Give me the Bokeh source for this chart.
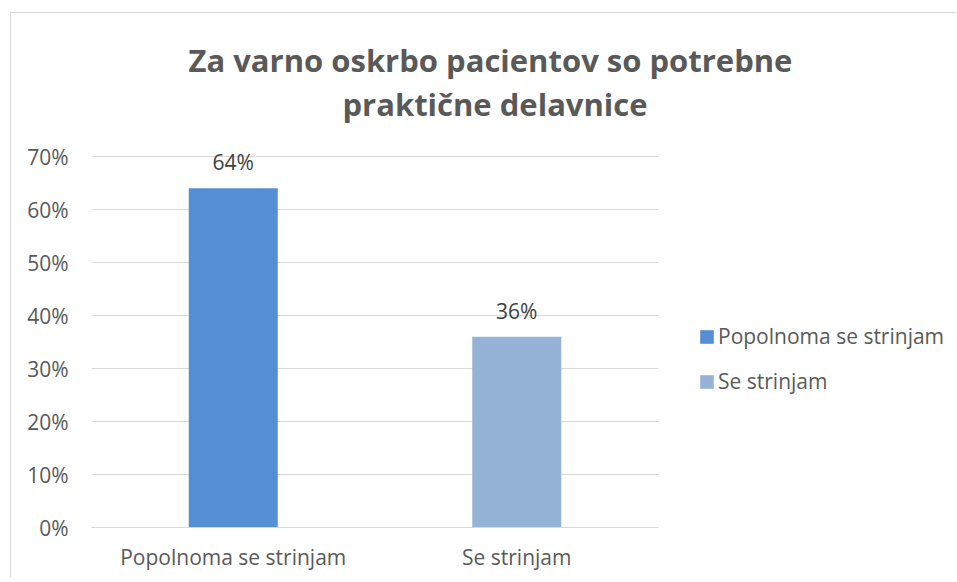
from bokeh.plotting import figure
from bokeh.models import (ColumnDataSource, Range1d, FixedTicker,
                          NumeralTickFormatter, Legend, LegendItem, LabelSet, Title)
from bokeh.core.properties import value
from bokeh.embed import file_html
from bokeh.resources import INLINE

# ---- data ----
title_lines = ["Za varno oskrbo pacientov so potrebne", "praktične delavnice"]
categories = ["Popolnoma se strinjam", "Se strinjam"]
values = [0.64, 0.36]
colors = ["#558ED5", "#95B3D7"]
y_ticks = [0.0, 0.1, 0.2, 0.3, 0.4, 0.5, 0.6, 0.7]
value_labels = [f"{round(v * 100)}%" for v in values]

FONT = "Open Sans"
TEXT = "#595959"
FS = "21px"
GRID = "#d9d9d9"

n = len(categories)
xpos = [i + 0.5 for i in range(n)]
source = ColumnDataSource(dict(x=xpos, cat=categories, val=values, color=colors, lbl=value_labels))

# plot area geometry (pixels): categories occupy 567 px; the frame continues
# to the right for the legend and a little above the top gridline for labels
CAT_PX = 567
FRAME_W = 946 - 80
GRID_H = 370          # pixels from 0% to 70%
FRAME_H = GRID_H + 17
x_end = n * FRAME_W / CAT_PX
y_end = y_ticks[-1] * FRAME_H / GRID_H

p = figure(width=946, height=565, x_range=Range1d(0, x_end),
           y_range=Range1d(0, y_end), output_backend="svg", toolbar_location=None,
           min_border_left=80, min_border_right=0, min_border_top=126,
           min_border_bottom=51)
p.margin = (12, 0, 0, 10)
p.styles = {"border-top": "1px solid #d9d9d9", "border-left": "1px solid #d9d9d9"}
p.outline_line_color = None
p.background_fill_color = "white"
p.border_fill_color = "white"
p.xgrid.visible = False
p.ygrid.visible = False

# horizontal gridlines spanning the category area only
p.segment(x0=[0] * len(y_ticks), x1=[n] * len(y_ticks), y0=y_ticks, y1=y_ticks,
          line_color=GRID, line_width=1)

bars = p.vbar(x="x", top="val", width=0.314, color="color", source=source, line_color=None)

# y axis
p.yaxis.ticker = FixedTicker(ticks=y_ticks)
p.yaxis.formatter = NumeralTickFormatter(format="0%")
p.yaxis.axis_line_color = None
p.yaxis.major_tick_line_color = None
p.yaxis.minor_tick_line_color = None
p.yaxis.major_label_standoff = 17
p.yaxis.major_label_text_font = FONT
p.yaxis.major_label_text_font_size = FS
p.yaxis.major_label_text_color = TEXT

# x axis
p.xaxis.ticker = FixedTicker(ticks=xpos)
p.xaxis.major_label_overrides = {x: c for x, c in zip(xpos, categories)}
p.xaxis.bounds = (0, n)
p.xaxis.axis_line_color = GRID
p.xaxis.major_tick_line_color = None
p.xaxis.minor_tick_line_color = None
p.xaxis.major_label_standoff = 9
p.xaxis.major_label_text_font = FONT
p.xaxis.major_label_text_font_size = FS
p.xaxis.major_label_text_color = TEXT

# data labels
labels = LabelSet(x="x", y="val", text="lbl", source=source, y_offset=12,
                  text_align="center", text_baseline="bottom",
                  text_font=value(FONT), text_font_size=value(FS),
                  text_color="#404040")
p.add_layout(labels)

# title: spacer nearest the frame, then line 2, then line 1
p.add_layout(Title(text=" ", text_font_size="10px", standoff=2), "above")
p.add_layout(Title(text=title_lines[1], align="left", offset=251, standoff=0,
                   text_font=FONT, text_font_size="31px", text_font_style="bold",
                   text_color=TEXT), "above")
p.add_layout(Title(text=title_lines[0], align="left", offset=97, standoff=0,
                   text_font=FONT, text_font_size="31px", text_font_style="bold",
                   text_color=TEXT), "above")

# legend
items = [LegendItem(label=c, renderers=[bars], index=i) for i, c in enumerate(categories)]
legend = Legend(items=items, location=(607, 132), orientation="vertical",
                padding=0, margin=0, spacing=17, border_line_color=None,
                background_fill_alpha=0, glyph_width=17, glyph_height=17,
                label_standoff=3, label_text_font=FONT, label_text_font_size=FS,
                label_text_color=TEXT)
p.add_layout(legend)

open("out.html", "w").write(file_html(p, INLINE))
